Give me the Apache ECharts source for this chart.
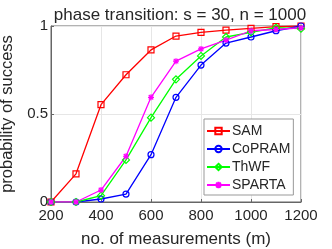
<!DOCTYPE html>
<html><head><meta charset="utf-8">
<script src="https://cdn.jsdelivr.net/npm/echarts@6/dist/echarts.min.js"></script>
<style>html,body{margin:0;padding:0;background:#fff}#c{width:332px;height:249px}</style>
</head><body><div id="c"></div>
<script>
const categories = [200,300,400,500,600,700,800,900,1000,1100,1200];
const samValues    = [0,0.16,0.553,0.723,0.864,0.943,0.964,0.977,0.987,0.996,1.0];
const copramValues = [0,0,0.017,0.045,0.269,0.595,0.778,0.903,0.9375,0.973,1.0];
const thwfValues   = [0,0,0.036,0.239,0.479,0.697,0.83,0.9375,0.964,0.99,0.985];
const spartaValues = [0,0,0.068,0.26,0.595,0.80,0.87,0.92,0.973,0.98,0.99];
const xTicks = [200,400,600,800,1000,1200];
const yTicks = [0,0.5,1];

const font = 'Liberation Sans, Arial, sans-serif';
const axisCol = '#666';
const txtCol = '#262626';
function pairs(v){ return categories.map((x,i)=>[x,v[i]]); }
function mk(name, vals, color, symbol, size, hollow){
  return {
    name, type:'line', data: pairs(vals), symbol, symbolSize:size,
    lineStyle:{color, width:1.3},
    itemStyle:{color: hollow ? 'rgba(0,0,0,0)' : color, borderColor:color, borderWidth:1.2},
    emphasis:{disabled:true}, animation:false
  };
}
const chart = echarts.init(document.getElementById('c'), null, {renderer:'canvas'});
chart.setOption({
  animation:false,
  title:{text:'phase transition: s = 30, n = 1000', left:175, textAlign:'center', top:2,
    textStyle:{fontFamily:font, fontSize:17, fontWeight:'normal', color:txtCol}},
  grid:{left:51, right:31, top:26, bottom:47, containLabel:false, outerBoundsMode:'none',
    show:true, borderColor:axisCol, borderWidth:1, backgroundColor:'#fff'},
  xAxis:{type:'value', min:200, max:1200, interval:200,
    name:'no. of measurements (m)', nameLocation:'middle', nameGap:29,
    nameTextStyle:{fontFamily:font, fontSize:17, color:txtCol},
    axisLine:{lineStyle:{color:axisCol}},
    axisTick:{inside:true, length:3, lineStyle:{color:axisCol}},
    axisLabel:{fontFamily:font, fontSize:15, color:txtCol, margin:6,
      formatter:v=> xTicks.includes(v)? String(v):''},
    splitLine:{show:true, lineStyle:{color:'#e6e6e6', width:1}}},
  yAxis:{type:'value', min:0, max:1, interval:0.5,
    name:'probability of success', nameLocation:'middle', nameGap:25,
    nameTextStyle:{fontFamily:font, fontSize:16.5, color:txtCol},
    axisLine:{show:true, lineStyle:{color:axisCol}},
    axisTick:{show:true, inside:true, length:3, lineStyle:{color:axisCol}},
    axisLabel:{fontFamily:font, fontSize:15, color:txtCol, margin:3,
      formatter:v=> yTicks.includes(v)? String(v):''},
    splitLine:{show:true, lineStyle:{color:'#e6e6e6', width:1}}},
  legend:{orient:'vertical', left:204, top:119,
    padding:[5,3,3,2], itemGap:4, itemWidth:23, itemHeight:8,
    borderColor:'#999', borderWidth:1, backgroundColor:'#fff',
    textStyle:{fontFamily:font, fontSize:14, color:txtCol, padding:[0,0,0,-3]},
    data:['SAM','CoPRAM','ThWF','SPARTA']},
  series:[
    mk('SAM', samValues, '#ff0000', 'rect', 6, true),
    mk('CoPRAM', copramValues, '#0000ff', 'circle', 6, true),
    mk('ThWF', thwfValues, '#00ff00', 'diamond', 7, true),
    mk('SPARTA', spartaValues, '#ff00ff', 'path://M4,0L4,8M0,4L8,4M1,1L7,7M7,1L1,7', 6, false)
  ]
});
</script></body></html>
